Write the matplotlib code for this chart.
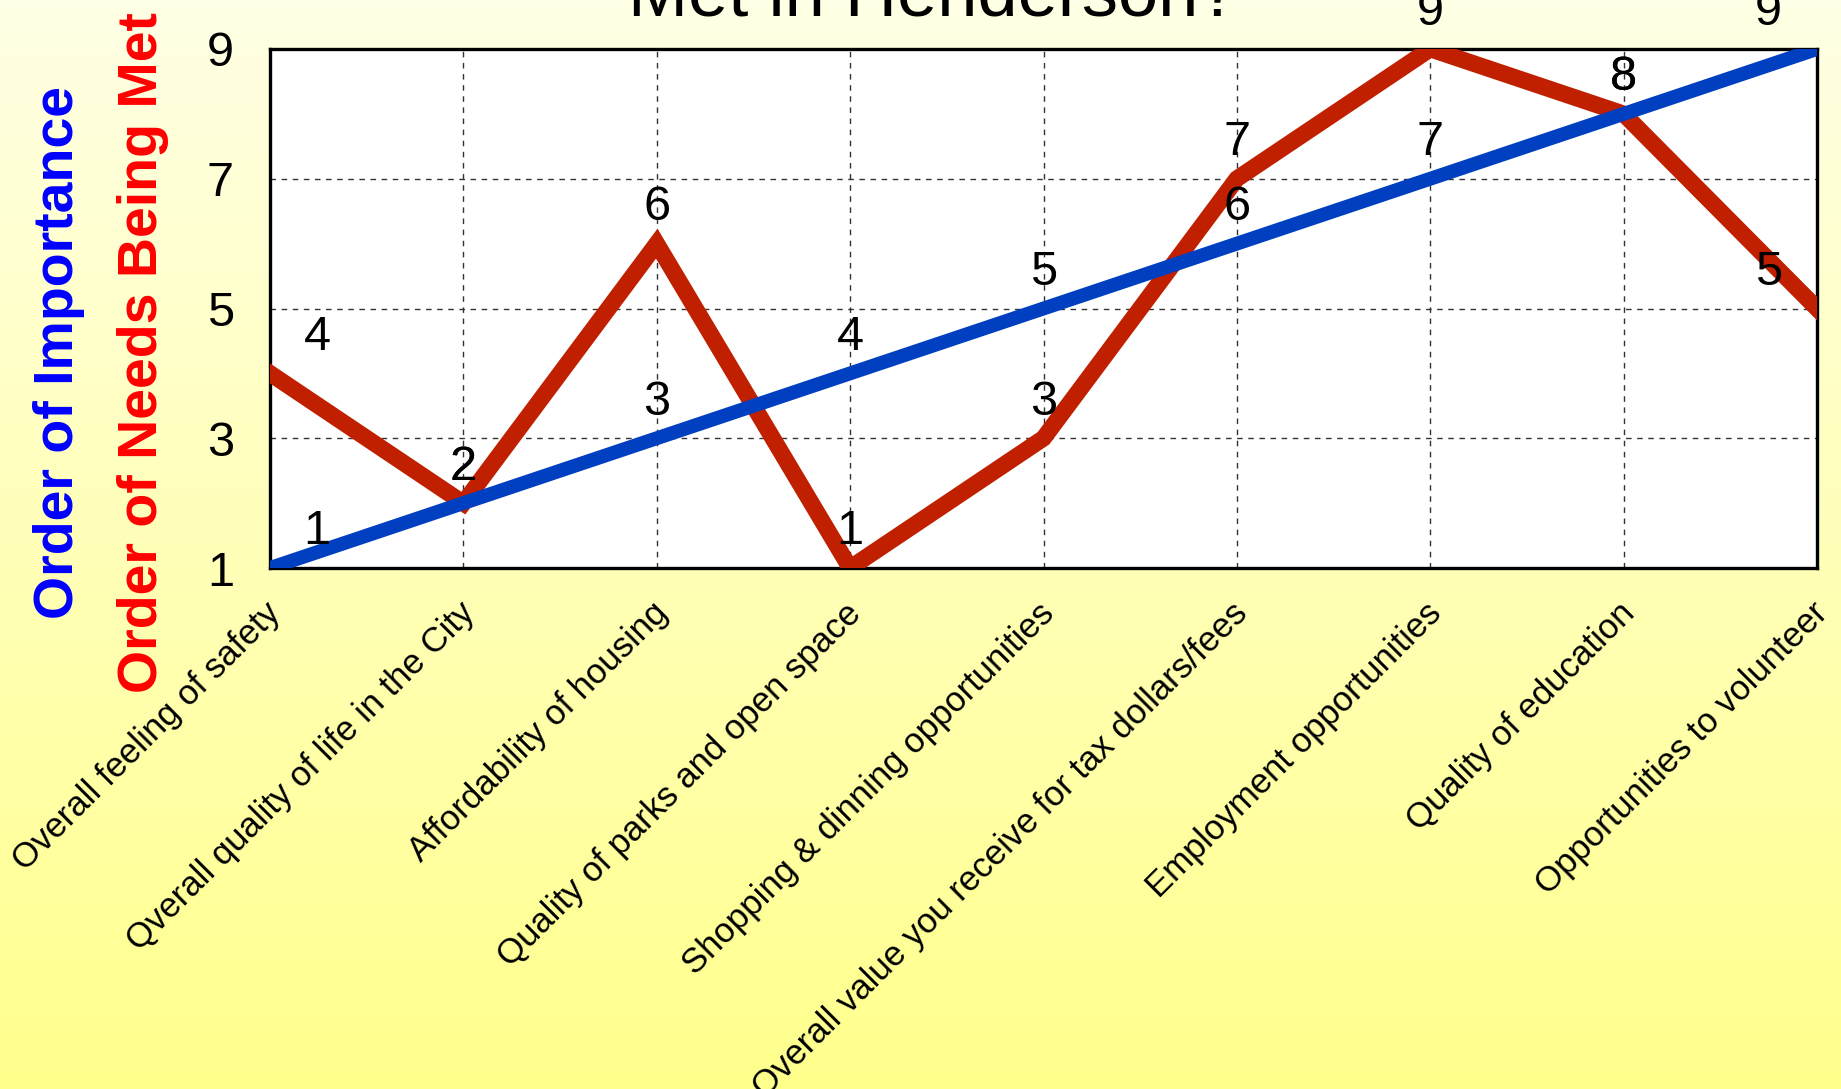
import numpy as np
import matplotlib
matplotlib.use("Agg")
import matplotlib.pyplot as plt
import matplotlib.transforms as mtransforms

plt.rcParams['font.family'] = ['Liberation Sans', 'DejaVu Sans']

# ---- data ----
categories = [
    "Overall feeling of safety",
    "Qverall quality of life in the City",
    "Affordability of housing",
    "Quality of parks and open space",
    "Shopping & dinning opportunities",
    "Overall value you receive for tax dollars/fees",
    "Employment opportunities",
    "Quality of education",
    "Opportunities to volunteer",
]
importance = [1, 2, 3, 4, 5, 6, 7, 8, 9]
needs_met = [4, 2, 6, 1, 3, 7, 9, 8, 5]
y_ticks = [1, 3, 5, 7, 9]

title_text = "Met in Henderson?"
ylabel_blue = "Order of Importance"
ylabel_red = "Order of Needs Being Met"

RED = '#C02000'
BLUE = '#0040C0'

W, H = 1841, 1089
fig = plt.figure(figsize=(W / 100, H / 100), dpi=100)

# gradient background
bg = fig.add_axes([0, 0, 1, 1], zorder=-10)
top = np.array([1.0, 1.0, 0.90])
bot = np.array([1.0, 1.0, 0.55])
t = np.linspace(0, 1, 256)[:, None]
grad = top[None, :] * (1 - t) + bot[None, :] * t
bg.imshow(grad[:, None, :], aspect='auto', extent=[0, 1, 0, 1])
bg.set_axis_off()

ax = fig.add_axes([270 / W, 1 - 568 / H, (1817 - 270) / W, (568 - 49) / H])
ax.set_facecolor('white')

x = np.arange(len(categories))
ax.plot(x, needs_met, color=RED, lw=12, solid_joinstyle='miter', zorder=3)
ax.plot(x, importance, color=BLUE, lw=10, solid_joinstyle='miter', zorder=4)

ax.set_xlim(0, len(categories) - 1)
ax.set_ylim(1, 9)
ax.set_yticks(y_ticks)
ax.set_xticks(x)
ax.tick_params(axis='y', length=0, pad=26, labelsize=35)
ax.tick_params(axis='x', length=0, pad=29)
ax.set_xticklabels(categories, rotation=45, ha='right', va='center',
                   rotation_mode='anchor', fontsize=25)
shift = mtransforms.ScaledTranslation(6 / 100, 0, fig.dpi_scale_trans)
for lab in ax.get_xticklabels():
    lab.set_transform(lab.get_transform() + shift)
ax.grid(True, color='#333333', ls=(0, (4, 4)), lw=1)
for s in ax.spines.values():
    s.set_linewidth(2.4)
    s.set_color('black')

# value labels above each point
last = len(categories) - 1
for series in (importance, needs_met):
    for i, v in enumerate(series):
        dx = 34 if i == 0 else (-35 if i == last else 0)
        ax.annotate(str(v), (i, v), xytext=(dx, 26), textcoords='offset points',
                    ha='center', va='center', fontsize=35, color='black',
                    zorder=6, annotation_clip=False)

fig.text(933 / W, 1 - 16 / H, title_text, ha='center', va='baseline',
         fontsize=52, color='black')
fig.text(59 / W, 1 - 352 / H, ylabel_blue, rotation=90, ha='center', va='center',
         fontsize=40, fontweight='bold', color='#0000FF')
fig.text(143 / W, 1 - 353 / H, ylabel_red, rotation=90, ha='center', va='center',
         fontsize=40, fontweight='bold', color='#FF0000')

fig.savefig('out.png', dpi=100)
